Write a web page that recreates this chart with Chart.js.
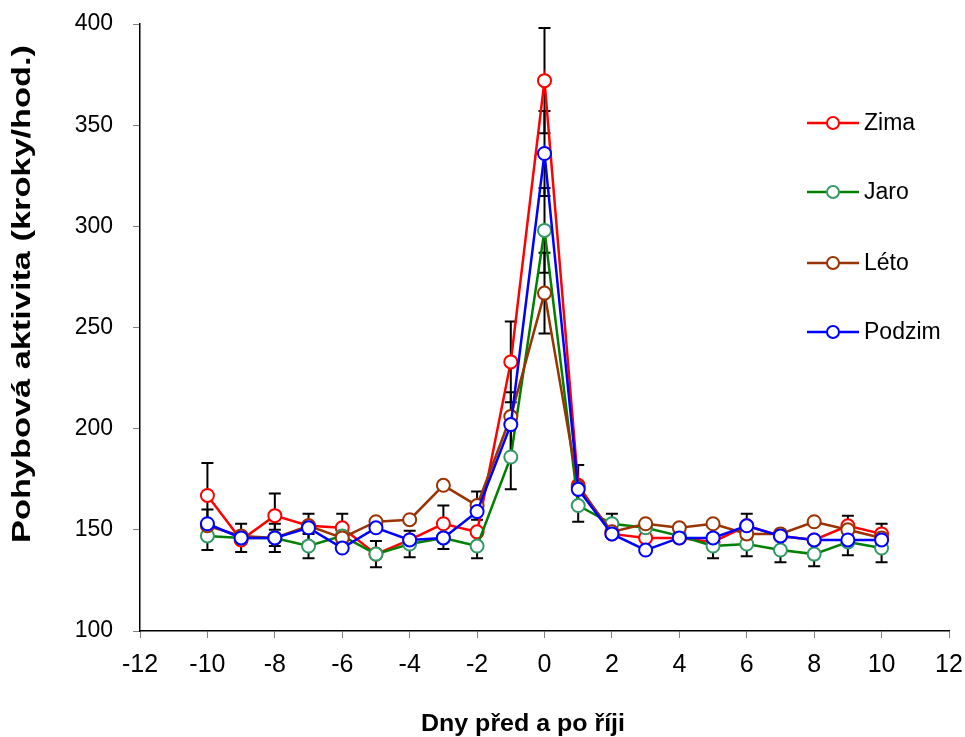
<!DOCTYPE html>
<html>
<head>
<meta charset="utf-8">
<script src="https://cdn.jsdelivr.net/npm/chart.js@4/dist/chart.umd.min.js"></script>
<style>
  html, body { margin: 0; padding: 0; background: #fff; }
</style>
</head>
<body>
<canvas id="graf" width="965" height="737"></canvas>
<script>
// dny kolem říje
const dny = [-10, -9, -8, -7, -6, -5, -4, -3, -2, -1, 0, 1, 2, 3, 4, 5, 6, 7, 8, 9, 10];

// průměrná pohybová aktivita (kroky/hod.)
const zima   = [167, 145, 157, 152, 151, 138, 145, 153, 149, 233, 372, 172, 148, 146, 146, 144, 152, 147, 145, 152, 148];
const jaro   = [147, 146, 146, 142, 147, 138, 143, 146, 142, 186, 298, 162, 153, 151, 147, 142, 143, 140, 138, 144, 141];
const leto   = [152, 147, 146, 152, 146, 154, 155, 172, 162, 206, 267, 171, 149, 153, 151, 153, 148, 148, 154, 150, 146];
const podzim = [153, 146, 146, 151, 141, 151, 145, 146, 159, 202, 336, 170, 148, 140, 146, 146, 152, 147, 145, 145, 145];

// chybové úsečky (0 = nezobrazeno)
const zimaErr   = [16, 0, 11, 0, 7, 0, 0, 9, 0, 20, 26, 10, 0, 0, 0, 0, 6, 0, 0, 5, 5];
const jaroErr   = [7, 7, 7, 6, 0, 6.5, 6.5, 5.5, 6, 16, 21, 8, 5, 0, 0, 6, 6, 6, 6, 6.5, 7];
const letoErr   = [0, 0, 0, 0, 0, 0, 0, 0, 7, 0, 20, 0, 0, 0, 0, 0, 0, 0, 0, 0, 0];
const podzimErr = [7, 0, 4, 7, 0, 0, 0, 0, 0, 16, 21, 0, 0, 0, 0, 0, 0, 0, 0, 0, 0];

const nazvy = ['Zima', 'Jaro', 'Léto', 'Podzim'];
const xTicks = [-12, 12, 2];   // min, max, krok
const yTicks = [100, 400, 50];

const pismo = 'Liberation Sans, Arial, sans-serif';

function body(hodnoty) {
    return dny.map((d, i) => ({ x: d, y: hodnoty[i] }));
}

function rada(label, hodnoty, chyby, barva, okraj, poradi) {
    return {
        label: label,
        data: body(hodnoty),
        chyby: chyby,
        borderColor: barva,
        borderWidth: 2.5,
        pointRadius: 6.5,
        pointBorderWidth: 2,
        pointBackgroundColor: '#ffffff',
        pointBorderColor: okraj,
        tension: 0,
        order: poradi
    };
}

// chybové úsečky pod čarami
const errorBars = {
    id: 'errorBars',
    beforeDatasetsDraw(chart) {
        const ctx = chart.ctx;
        const y = chart.scales.y;
        ctx.save();
        ctx.strokeStyle = '#000';
        ctx.lineWidth = 2;
        chart.data.datasets.forEach((ds, i) => {
            const meta = chart.getDatasetMeta(i);
            ds.chyby.forEach((e, j) => {
                if (!e) return;
                const px = meta.data[j].x;
                const v = ds.data[j].y;
                const top = y.getPixelForValue(v + e);
                const bot = y.getPixelForValue(v - e);
                ctx.beginPath();
                ctx.moveTo(px, top); ctx.lineTo(px, bot);
                ctx.moveTo(px - 6, top); ctx.lineTo(px + 6, top);
                ctx.moveTo(px - 6, bot); ctx.lineTo(px + 6, bot);
                ctx.stroke();
            });
        });
        ctx.restore();
    }
};

// popisky os a legenda
function natazenyText(ctx, text, x, y, delka, uhel) {
    ctx.save();
    ctx.translate(x, y);
    ctx.rotate(uhel);
    const w = ctx.measureText(text).width;
    ctx.scale(delka / w, 1);
    ctx.fillText(text, 0, 0);
    ctx.restore();
}

const popisky = {
    id: 'popisky',
    afterDraw(chart) {
        const ctx = chart.ctx;
        ctx.save();
        ctx.fillStyle = '#000';
        ctx.textAlign = 'center';
        ctx.textBaseline = 'middle';
        ctx.font = 'bold 25px ' + pismo;
        natazenyText(ctx, 'Pohybová aktivita (kroky/hod.)', 23, 294, 498, -Math.PI / 2);
        ctx.textBaseline = 'alphabetic';
        ctx.font = 'bold 24px ' + pismo;
        natazenyText(ctx, 'Dny před a po říji', 523, 731, 204, 0);

        // legenda
        const radky = [123, 192, 263, 332];
        ctx.font = '23px ' + pismo;
        ctx.textAlign = 'left';
        ctx.textBaseline = 'middle';
        chart.data.datasets.forEach((ds, i) => {
            const ly = radky[i];
            ctx.strokeStyle = ds.borderColor;
            ctx.lineWidth = 2.5;
            ctx.beginPath();
            ctx.moveTo(807, ly); ctx.lineTo(859, ly);
            ctx.stroke();
            ctx.beginPath();
            ctx.arc(833, ly, 6, 0, Math.PI * 2);
            ctx.fillStyle = '#fff';
            ctx.fill();
            ctx.strokeStyle = ds.pointBorderColor;
            ctx.lineWidth = 2;
            ctx.stroke();
            ctx.fillStyle = '#000';
            ctx.fillText(nazvy[i], 864, ly + 1);
        });
        ctx.restore();
    }
};

const ctx = document.getElementById('graf').getContext('2d');
const graf = new Chart(ctx, {
    type: 'line',
    data: {
        datasets: [
            rada(nazvy[0], zima, zimaErr, '#ff0000', '#ff0000', 4),
            rada(nazvy[1], jaro, jaroErr, '#008000', '#339966', 3),
            rada(nazvy[2], leto, letoErr, '#993300', '#993300', 2),
            rada(nazvy[3], podzim, podzimErr, '#0000ff', '#0000ff', 1)
        ]
    },
    options: {
        responsive: false,
        animation: false,
        layout: { padding: { top: 24, right: 16, bottom: 0, left: 0 } },
        plugins: {
            legend: { display: false },
            tooltip: { enabled: false }
        },
        scales: {
            x: {
                type: 'linear',
                min: xTicks[0],
                max: xTicks[1],
                ticks: { stepSize: xTicks[2], color: '#000', padding: 12, font: { family: pismo, size: 25 } },
                grid: { drawOnChartArea: false, tickLength: 7, color: '#808080' },
                border: { color: '#000', width: 1.5 },
                afterFit(s) { s.height = 106; s.paddingLeft = 0; s.paddingRight = 0; }
            },
            y: {
                min: yTicks[0],
                max: yTicks[1],
                ticks: { stepSize: yTicks[2], color: '#000', padding: 20, font: { family: pismo, size: 23 } },
                grid: { drawOnChartArea: false, tickLength: 7, color: '#808080' },
                border: { color: '#000', width: 1.5 },
                afterFit(s) { s.width = 140; s.paddingTop = 0; s.paddingBottom = 0; }
            }
        }
    },
    plugins: [errorBars, popisky]
});
</script>
</body>
</html>
